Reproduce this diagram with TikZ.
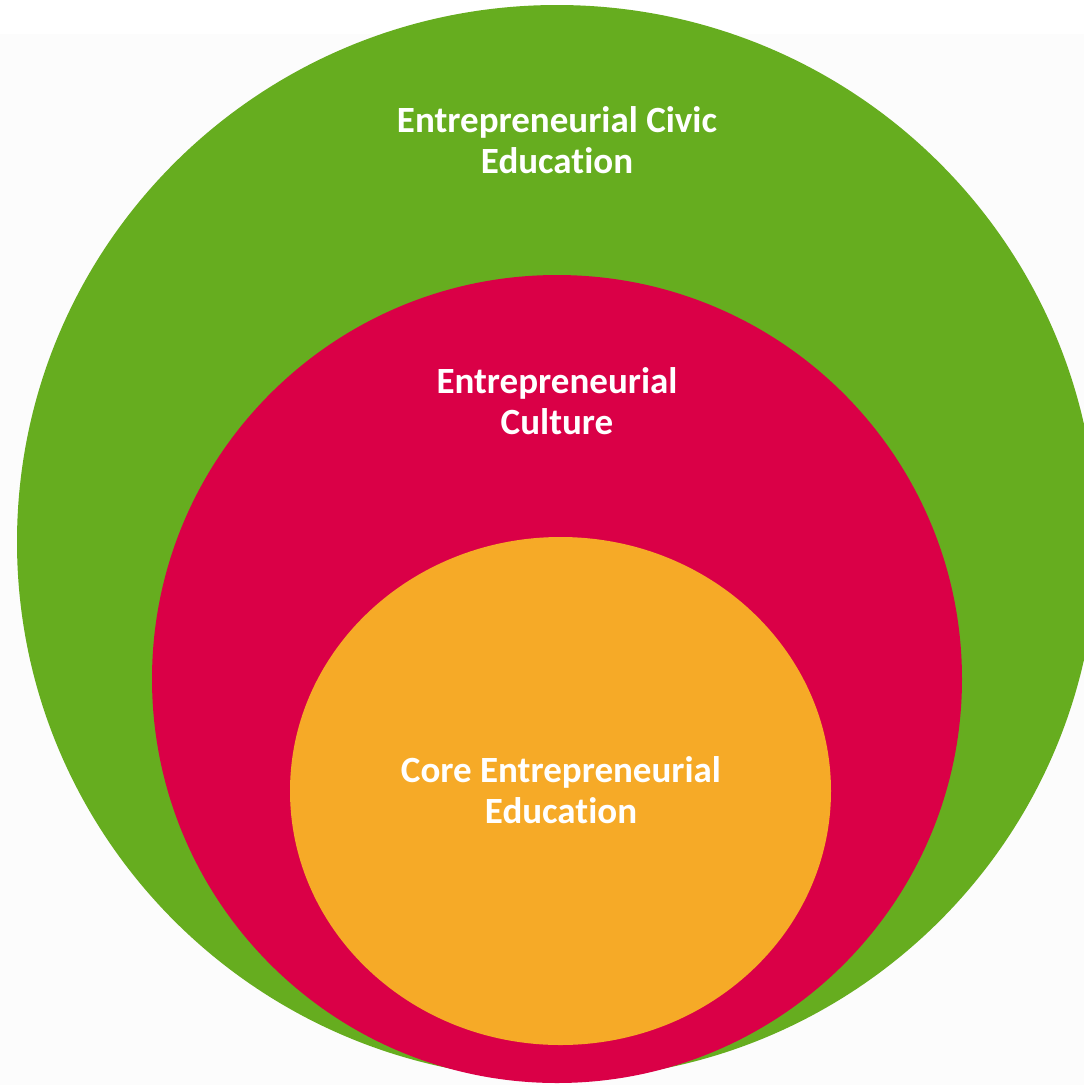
\documentclass[tikz,border=0pt]{standalone}
\usepackage{fontspec}
\setmainfont[Ligatures=NoCommon]{Carlito}
\definecolor{cgreen}{HTML}{66AD1F}
\definecolor{cred}{HTML}{DA0047}
\definecolor{corange}{HTML}{F6AA27}
\definecolor{bgray}{HTML}{FCFCFC}
\begin{document}
\begin{tikzpicture}[x=1pt,y=-1pt,
  lbl/.style={text=white, align=center, font=\fontsize{37}{41}\selectfont\bfseries, inner sep=0pt}]
\useasboundingbox (0,0) rectangle (1084,1085);
\clip (0,0) rectangle (1084,1085);
\fill[white] (0,0) rectangle (1084,1085);
\fill[bgray] (0,34) rectangle (1084,1085);
\fill[cgreen] (557,542) ellipse [x radius=540, y radius=537];
\fill[cred] (557,679) ellipse [x radius=405, y radius=404];
\fill[corange] (560.5,791) ellipse [x radius=270.5, y radius=254];
\node[lbl] (civic) at (557,140) {Entrepreneurial Civic\\Education};
\node[lbl] (culture) at (557,401) {Entrepreneurial\\Culture};
\node[lbl] (core) at (561,790) {Core Entrepreneurial\\Education};
\end{tikzpicture}
\end{document}
